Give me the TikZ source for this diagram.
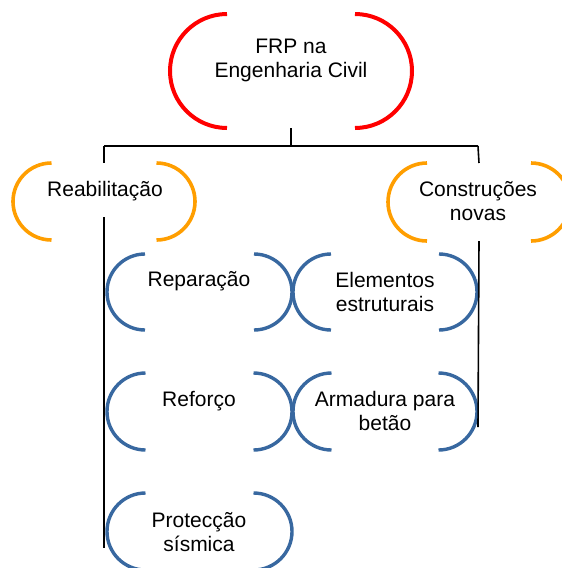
\documentclass[tikz,border=0pt]{standalone}
\usepackage{fontspec}
\setmainfont{Liberation Sans}
\definecolor{cred}{RGB}{255,0,0}
\definecolor{corange}{RGB}{255,158,0}
\definecolor{cblue}{RGB}{56,104,160}
\newcommand\bracketnode[6]{%
  \node[shapebox, minimum width=#4pt, minimum height=#5pt] (#1) at (#2,-#3) {};
  \pgfmathsetmacro\brkr{#5/2}
  \draw[#6] ([xshift=\brkr pt]#1.north west) arc[start angle=90,end angle=270,radius=\brkr pt];
  \draw[#6] ([xshift=-\brkr pt]#1.north east) arc[start angle=90,end angle=-90,radius=\brkr pt];
}
\newcommand\lbl[1]{\begin{tabular}[t]{@{}c@{}}#1\end{tabular}}
\begin{document}
\begin{tikzpicture}[x=1pt,y=1pt,
  shapebox/.style={rectangle, inner sep=0pt, outer sep=0pt},
  redline/.style={draw=cred, line width=4pt},
  orline/.style={draw=corange, line width=3.6pt},
  blline/.style={draw=cblue, line width=3.4pt},
  conn/.style={draw=black, line width=1.6pt},
  txt/.style={anchor=base, inner sep=0pt, font=\fontsize{21}{24}\selectfont}]
\useasboundingbox (0,0) rectangle (562,-568);
% shapes
\bracketnode{top}{291}{71}{242}{114}{redline}
\bracketnode{reab}{104}{201.5}{182}{77}{orline}
\bracketnode{cons}{479}{202}{182}{78}{orline}
\bracketnode{rep}{199.5}{292}{185}{76}{blline}
\bracketnode{elem}{385}{292}{184}{76}{blline}
\bracketnode{refo}{199.5}{411.5}{185}{77}{blline}
\bracketnode{arm}{385}{411.5}{184}{77}{blline}
\bracketnode{prot}{199.5}{531.5}{185}{77}{blline}
% connectors
\coordinate (hub) at (291,-146);
\coordinate (L1) at (104,-146);
\coordinate (R1) at (478,-146);
\coordinate (Lmid) at (104,-217);
\coordinate (Lend) at (104,-548);
\coordinate (Rend) at (478,-427);
\draw[conn] (top.south) -- (hub);
\draw[conn] (L1) -- (R1);
\draw[conn] (L1) -- (reab.north);
\draw[conn] (Lmid) -- (Lend);
\draw[conn] (R1) -- (cons.north);
\draw[conn] (cons.south) -- (Rend);
% texts
\node[txt] (ttop) at (291,-53) {\lbl{FRP na\\Engenharia Civil}};
\node[txt] (treab) at (105,-196) {\lbl{Reabilitação}};
\node[txt] (tcons) at (478,-196) {\lbl{Construções\\novas}};
\node[txt] (trep) at (199,-286) {\lbl{Reparação}};
\node[txt] (telem) at (385,-287) {\lbl{Elementos\\estruturais}};
\node[txt] (trefo) at (199,-406) {\lbl{Reforço}};
\node[txt] (tarm) at (385,-406) {\lbl{Armadura para\\betão}};
\node[txt] (tprot) at (199,-527) {\lbl{Protecção\\sísmica}};
\end{tikzpicture}
\end{document}
